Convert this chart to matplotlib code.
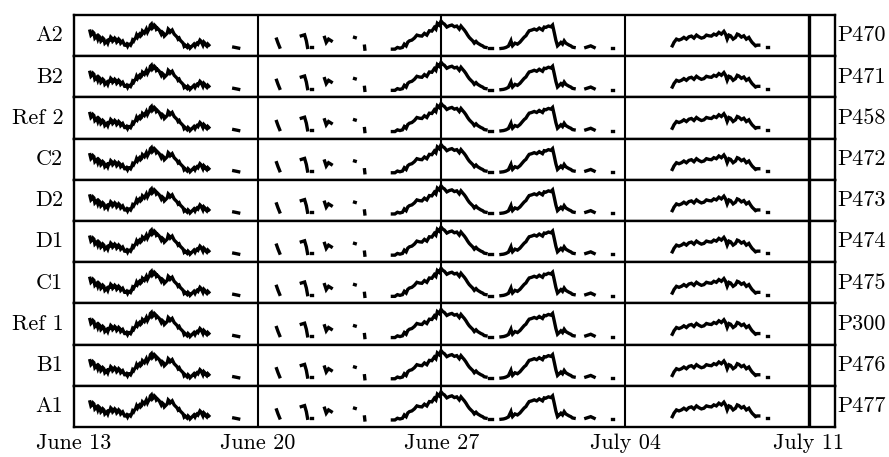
import matplotlib
matplotlib.use("Agg")
import matplotlib.pyplot as plt
import numpy as np

plt.rcParams['font.family'] = ['cmr10', 'DejaVu Serif']
plt.rcParams['axes.formatter.use_mathtext'] = True

# probe labels, top to bottom
left_labels = ["A2", "B2", "Ref 2", "C2", "D2", "D1", "C1", "Ref 1", "B1", "A1"]
right_labels = ["P470", "P471", "P458", "P472", "P473", "P474", "P475", "P300", "P476", "P477"]

# x axis: hours since June 13 00:00
tick_hours = [0, 168, 336, 504, 672]
tick_labels = ["June 13", "June 20", "June 27", "July 04", "July 11"]
week_lines = [168, 336, 504]
end_line = 672
x_end = 696

# recorded segments (hours, level); gaps between segments are missing data
seg_hours = [
    [14.6, 15.5, 16.4, 17.3, 18.2, 19.1, 20.0, 20.9, 21.8, 22.8,
     23.7, 24.6, 25.5, 26.4, 27.3, 28.2, 29.1, 30.0, 30.9, 31.8,
     32.7, 33.6, 34.5, 35.4, 36.3, 37.3, 38.2, 39.1, 40.0, 40.9,
     41.8, 42.7, 43.6, 44.5, 45.4, 46.3, 47.2, 48.1, 49.0, 49.9,
     50.8, 51.8, 52.7, 53.6, 54.5, 55.4, 56.3, 57.2, 58.1, 59.0,
     59.9, 60.8, 61.7, 62.6, 63.5, 64.4, 65.3, 66.2, 67.2, 68.1,
     69.0, 69.9, 70.8, 71.7, 72.6, 73.5, 74.4, 75.3, 76.2, 77.1,
     78.0, 78.9, 79.8, 80.7, 81.7, 82.6, 83.5, 84.4, 85.3, 86.2,
     87.1, 88.0, 88.9, 89.8, 90.7, 91.6, 92.5, 93.4, 94.3, 95.2,
     96.2, 97.1, 98.0, 98.9, 99.8, 100.7, 101.6, 102.5, 103.4, 104.3,
     105.2, 106.1, 107.0, 107.9, 108.8, 109.7, 110.7, 111.6, 112.5, 113.4,
     114.3, 115.2, 116.1, 117.0, 117.9, 118.8, 119.7, 120.6, 121.5, 122.4,
     123.3],
    [146.1, 148.4, 150.6],
    [185.3, 186.6, 188.1],
    [207.9, 210.9, 212.5, 213.6],
    [217.0, 218.0],
    [229.2, 230.7, 232.8, 235.3],
    [256.6, 257.2],
    [265.7, 266.0],
    [291.2, 293.5, 295.8, 298.1, 300.4, 302.1, 303.8, 305.3, 306.8, 309.0,
     311.3, 313.6, 315.9, 318.2, 320.5, 322.7, 325.0, 327.3, 329.6, 331.0,
     332.3, 334.0, 335.7, 337.2, 338.7, 341.0, 343.3, 345.6, 347.9, 350.1,
     352.4, 353.9, 355.4, 357.0, 358.5, 360.0, 361.5, 363.0, 364.6, 366.1,
     367.7, 369.2, 370.7, 372.2, 373.7, 375.2, 376.8],
    [379.8, 382.5],
    [390.5, 392.8, 395.0, 397.3, 399.6, 400.3, 401.0, 403.3, 405.6, 407.9,
     410.2, 411.8, 413.3, 414.8, 416.3, 418.6, 420.9, 423.2, 425.5, 427.0,
     428.5, 430.0, 431.6, 433.9, 436.2, 437.7, 439.2, 440.7, 442.2, 443.8,
     445.3, 446.8, 448.3, 449.8, 451.3, 452.9, 454.4, 455.9, 457.4],
    [468.1, 472.6, 475.7],
    [492.4, 493.0],
    [547.2, 548.0, 548.7, 551.0, 553.3, 555.6, 557.8, 560.1, 562.4, 564.7,
     567.0, 569.3, 571.5, 573.8, 576.1, 578.4, 580.7, 583.0, 585.2, 587.5,
     589.8, 592.1, 594.4, 595.9, 597.4, 599.0, 600.5, 602.8, 605.0, 606.6,
     608.1, 610.4, 612.6, 614.9, 617.2, 618.7, 620.2, 621.8, 623.3, 624.8,
     626.3],
    [633.9, 634.5],
]
seg_values = [
    [25, 21, 22, 24, 23, 18, 19, 20, 17, 20,
     19, 15, 16, 18, 17, 13, 14, 15, 13, 16,
     16, 19, 18, 15, 16, 18, 17, 14, 15, 17,
     16, 13, 14, 15, 13, 11, 11, 12, 10, 12,
     12, 11, 13, 16, 15, 17, 18, 21, 19, 21,
     22, 20, 21, 25, 24, 23, 25, 27, 24, 26,
     27, 31, 32, 28, 29, 31, 30, 27, 28, 27,
     26, 24, 22, 24, 23, 20, 21, 22, 23, 27,
     26, 24, 25, 26, 24, 22, 21, 20, 19, 17,
     18, 16, 15, 14, 13, 10, 11, 10, 9, 11,
     10, 8, 9, 10, 11, 12, 10, 12, 13, 12,
     14, 16, 15, 13, 11, 14, 13, 11, 10, 12,
     11],
    [9, 8.5, 8],
    [17, 13, 9],
    [20.3, 21.3, 15.3, 8.7],
    [8.7, 8.7],
    [18.7, 13.7, 17, 15.3],
    [18.7, 18.5],
    [10, 7],
    [7, 7, 8.7, 8, 8.7, 12, 10.3, 14, 15.3, 16,
     18, 21, 20.3, 20, 22.7, 21, 25.3, 25, 28.7, 27,
     32.7, 31, 35, 33, 32, 29, 30.3, 31, 29.3, 30,
     27, 30, 28, 26, 23.7, 21, 18.7, 17, 15.3, 13,
     14.7, 13, 12, 11, 10.3, 9, 8.7],
    [7.7, 7.7],
    [7.7, 8, 8.7, 10, 15.3, 12, 10.3, 13, 12, 14,
     17, 19, 20.3, 23, 25.3, 26, 27, 26, 28, 27,
     26, 29, 28.7, 30, 29.3, 31, 23.7, 16, 10.3, 12,
     13.7, 12, 15.3, 13, 12, 11, 10.3, 9, 8.7],
    [8.7, 10.3, 8.7],
    [7.7, 7.7],
    [10.3, 12, 13.7, 17, 16, 17, 18.7, 17, 19.3, 20,
     18, 21, 19.3, 18, 18.7, 21, 20.3, 20, 22, 21,
     23.7, 22, 24.7, 22, 17, 21, 20.3, 17, 18.7, 22,
     21.3, 19, 20.3, 17, 18.7, 16, 13.7, 12, 10.3, 11,
     11],
    [8.7, 8.7],
]

W, H = 889, 457
fig = plt.figure(figsize=(W / 100, H / 100), dpi=100)
left, right, top, bottom = 74 / W, 835 / W, 1 - 15 / H, 1 - 427 / H
nrows = len(left_labels)
row_h = (top - bottom) / nrows

for i in range(nrows):
    ax = fig.add_axes([left, top - (i + 1) * row_h, right - left, row_h])
    for h, v in zip(seg_hours, seg_values):
        ax.plot(h, v, color="black", lw=2.4, solid_capstyle="projecting",
                solid_joinstyle="miter")
    for xl in week_lines:
        ax.axvline(xl, color="black", lw=1.5)
    ax.axvline(end_line, color="black", lw=2.4)
    ax.set_xlim(0, x_end)
    ax.set_ylim(0, 41)
    ax.set_yticks([])
    for sp in ax.spines.values():
        sp.set_linewidth(1.7)
    ax.text(-0.014, 0.5, left_labels[i], transform=ax.transAxes,
            ha="right", va="center", fontsize=16)
    ax.text(1.003, 0.5, right_labels[i], transform=ax.transAxes,
            ha="left", va="center", fontsize=16)
    if i < nrows - 1:
        ax.set_xticks([])
    else:
        ax.set_xticks(tick_hours)
        ax.set_xticklabels(tick_labels, fontsize=16)
        ax.tick_params(axis="x", length=0, pad=5)

fig.savefig("out.png", dpi=100)
